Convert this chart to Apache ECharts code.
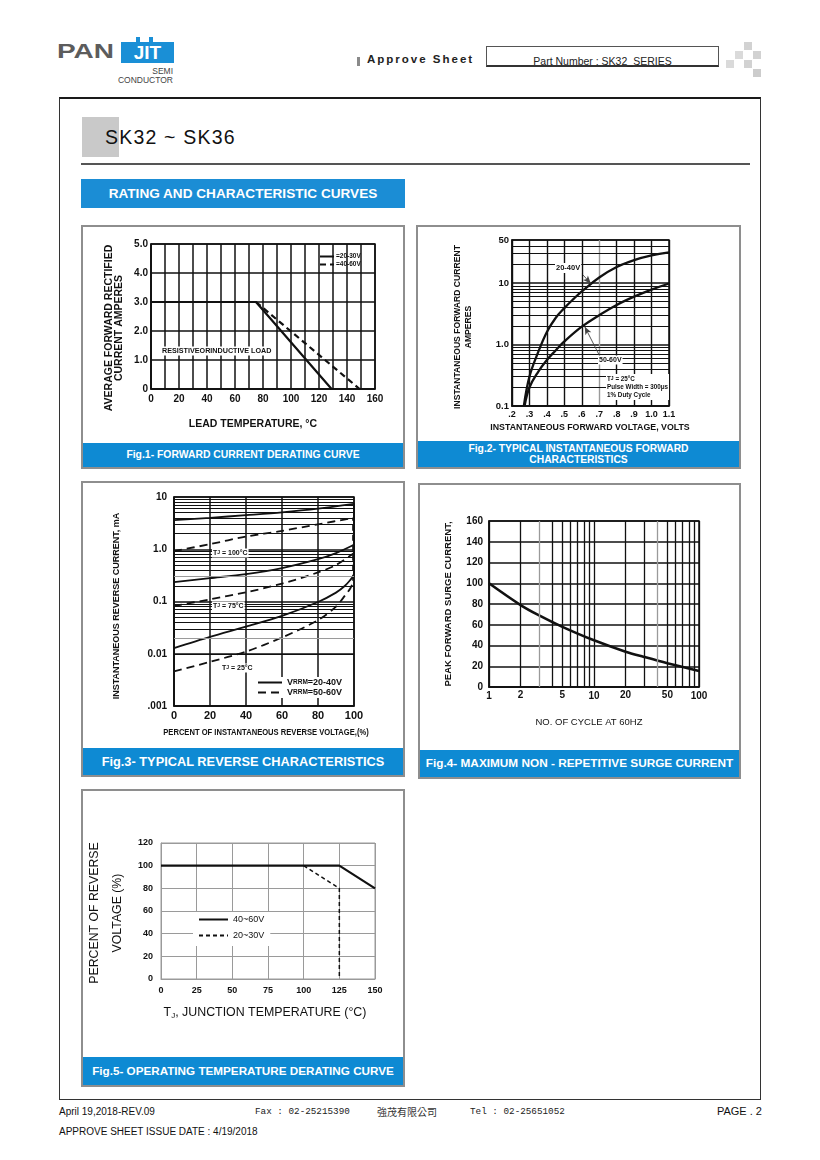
<!DOCTYPE html>
<html>
<head>
<meta charset="utf-8">
<script src="https://cdn.jsdelivr.net/npm/echarts@6/dist/echarts.min.js"></script>
<style>
  html, body { margin: 0; padding: 0; background: #fff; }
  body { font-family: "Liberation Sans", Arial, sans-serif; color: #111; }
  #page { position: relative; width: 820px; height: 1160px; overflow: hidden; background: #fff; }
  .abs { position: absolute; white-space: nowrap; }
  .panel { position: absolute; border: 2px solid #8e8e8e; box-sizing: border-box; }
  .cap { position: absolute; left: 0; right: 0; bottom: 0; background: #0e8ad3; color: #fff;
         font-weight: bold; text-align: center; white-space: nowrap; }
  .sq { position: absolute; width: 8px; height: 8px; background: #d2d2d2; }
  #chart { position: absolute; left: 0; top: 0; width: 820px; height: 1160px; z-index: 2; }
</style>
</head>
<body>
<div id="page">
  <!-- header / logo -->
  <div class="abs" style="left:57px;top:40px;font:bold 20px 'Liberation Sans';line-height:22px;color:#5c5c5c;transform:scaleX(1.4);transform-origin:left top;">PAN</div>
  <div class="abs" style="left:121px;top:42px;width:53px;height:21px;background:#1a8fd6;"></div>
  <div class="abs" style="left:136px;top:37px;width:4px;height:5px;background:#1a8fd6;"></div>
  <div class="abs" style="left:149px;top:37px;width:4px;height:5px;background:#1a8fd6;"></div>
  <div class="abs" style="left:121px;top:42px;width:53px;height:21px;font:bold 19px 'Liberation Sans';line-height:21px;color:#fff;text-align:center;">JIT</div>
  <div class="abs" style="right:647px;top:67px;font:8.5px 'Liberation Sans';line-height:9px;color:#444;text-align:right;">SEMI</div>
  <div class="abs" style="right:647px;top:76px;font:8.5px 'Liberation Sans';line-height:9px;color:#444;text-align:right;">CONDUCTOR</div>

  <div class="abs" style="left:357px;top:57px;width:3px;height:9px;background:#8a8a8a;"></div>
  <div class="abs" style="left:367px;top:53px;font:bold 11.5px 'Liberation Sans';letter-spacing:2px;line-height:13px;color:#222;">Approve Sheet</div>
  <div class="abs" style="left:486px;top:46px;width:233px;height:21px;box-sizing:border-box;border:1px solid #555;border-bottom:2px solid #333;"></div>
  <div class="abs" style="left:486px;top:56px;width:233px;font:10.5px 'Liberation Sans';line-height:11px;color:#222;text-align:center;">Part Number : SK32_SERIES</div>
  <div class="sq" style="left:744px;top:42px;"></div>
  <div class="sq" style="left:735px;top:51px;background:#dadada;"></div>
  <div class="sq" style="left:753px;top:51px;"></div>
  <div class="sq" style="left:726px;top:60px;background:#dadada;"></div>
  <div class="sq" style="left:744px;top:60px;"></div>
  <div class="sq" style="left:753px;top:69px;background:#cccccc;"></div>

  <!-- main frame -->
  <div class="abs" style="left:59px;top:97px;width:702px;height:1003px;box-sizing:border-box;border:1px solid #333;border-top:2px solid #1a1a1a;"></div>
  <div class="abs" style="left:82px;top:117px;width:37px;height:40px;background:#c9c9c9;"></div>
  <div class="abs" style="left:105px;top:126px;font:19.5px 'Liberation Sans';letter-spacing:1.2px;line-height:22px;color:#111;">SK32 ~ SK36</div>
  <div class="abs" style="left:81px;top:163px;width:669px;height:2px;background:#555;"></div>
  <div class="abs" style="left:81px;top:179px;width:324px;height:29px;background:#1b8dd5;color:#fff;font:bold 13.6px 'Liberation Sans';line-height:29px;text-align:center;">RATING AND CHARACTERISTIC CURVES</div>

  <!-- panels -->
  <div class="panel" style="left:81px;top:225px;width:324px;height:244px;">
    <div class="cap" style="height:24px;font-size:10.4px;line-height:24px;">Fig.1- FORWARD CURRENT DERATING CURVE</div>
  </div>
  <div class="panel" style="left:416px;top:225px;width:325px;height:244px;">
    <div class="cap" style="height:26px;font-size:10.3px;line-height:11px;padding-top:2px;box-sizing:border-box;">Fig.2- TYPICAL INSTANTANEOUS FORWARD<br>CHARACTERISTICS</div>
  </div>
  <div class="panel" style="left:81px;top:481px;width:324px;height:296px;">
    <div class="cap" style="height:27px;font-size:12.8px;line-height:27px;">Fig.3- TYPICAL REVERSE CHARACTERISTICS</div>
  </div>
  <div class="panel" style="left:418px;top:483px;width:323px;height:296px;">
    <div class="cap" style="height:27px;font-size:11.8px;line-height:27px;">Fig.4- MAXIMUM NON - REPETITIVE SURGE CURRENT</div>
  </div>
  <div class="panel" style="left:81px;top:789px;width:324px;height:298px;">
    <div class="cap" style="height:28px;font-size:11.7px;line-height:28px;">Fig.5- OPERATING TEMPERATURE DERATING CURVE</div>
  </div>

  <!-- footer -->
  <div class="abs" style="left:59px;top:1106px;font:10px 'Liberation Sans';line-height:12px;">April 19,2018-REV.09</div>
  <div class="abs" style="left:255px;top:1106px;font:9.3px 'Liberation Mono';line-height:12px;color:#222;">Fax : 02-25215390</div>
  <div class="abs" style="left:377px;top:1105px;font:10px 'Noto Sans CJK TC';line-height:13px;color:#333;">強茂有限公司</div>
  <div class="abs" style="left:470px;top:1106px;font:9.3px 'Liberation Mono';line-height:12px;color:#222;">Tel : 02-25651052</div>
  <div class="abs" style="right:58px;top:1105px;font:11px 'Liberation Sans';line-height:13px;">PAGE . 2</div>
  <div class="abs" style="left:59px;top:1126px;font:10px 'Liberation Sans';line-height:12px;">APPROVE SHEET ISSUE DATE : 4/19/2018</div>

  <div id="chart"></div>
</div>

<script>
// ================= DATA =================
// Fig.1 forward current derating (lead temperature degC -> average forward current A)
const fig1Temp2030 = [0, 75, 129];
const fig1Amp2030  = [3.0, 3.0, 0];
const fig1Temp4060 = [75, 149];
const fig1Amp4060  = [3.0, 0];

// Fig.2 typical instantaneous forward characteristics (V -> A)
const fig2Volt2040 = [0.268, 0.30, 0.35, 0.40, 0.45, 0.50, 0.55, 0.60, 0.70, 0.80, 0.90, 1.00, 1.10];
const fig2Amp2040  = [0.1, 0.30, 0.75, 1.6, 2.7, 3.9, 5.4, 7.3, 12.3, 18.2, 23.5, 28, 31.5];
const fig2Volt5060 = [0.272, 0.30, 0.35, 0.40, 0.45, 0.50, 0.60, 0.70, 0.80, 0.90, 1.00, 1.10];
const fig2Amp5060  = [0.1, 0.2, 0.36, 0.56, 0.8, 1.12, 1.95, 3.0, 4.4, 6.0, 7.8, 9.8];

// Fig.3 typical reverse characteristics (% of VRRM -> mA)
const fig3Pct100 = [0, 20, 40, 60, 80, 100];
const fig3Solid100 = [3.6, 4.0, 4.5, 5.1, 6.0, 7.4];
const fig3Dash100  = [0.92, 1.25, 1.75, 2.25, 3.0, 4.0];
const fig3Pct75 = [0, 20, 40, 60, 80, 90, 100];
const fig3Solid75 = [0.235, 0.28, 0.335, 0.435, 0.645, 0.845, 1.22];
const fig3Dash75  = [0.082, 0.11, 0.15, 0.22, 0.36, 0.5, 0.85];
const fig3Pct25 = [0, 20, 40, 60, 80, 90, 95, 98, 100];
const fig3Solid25 = [0.0128, 0.021, 0.033, 0.053, 0.098, 0.148, 0.2, 0.26, 0.32];
const fig3Dash25  = [0.0046, 0.007, 0.011, 0.0205, 0.044, 0.08, 0.13, 0.18, 0.25];
const fig3EdgeSolidPct = [100, 100];
const fig3EdgeSolid    = [0.32, 7.6];
const fig3EdgeDashPct  = [99.4, 99.4];
const fig3EdgeDash     = [0.25, 4.0];

// Fig.4 maximum non-repetitive surge current (cycles -> A)
const fig4Cycles = [1, 2, 3, 5, 10, 20, 30, 50, 100];
const fig4Surge  = [100, 79, 69, 58, 45, 34, 29, 23, 15.5];

// Fig.5 operating temperature derating (TJ degC -> % of reverse voltage)
const fig5Temp4060 = [0, 125, 150];
const fig5Pct4060  = [100, 100, 80];
const fig5Temp2030 = [100, 125, 125];
const fig5Pct2030  = [100, 80, 0];

// tick labels / grid helpers
const fig2YTickLabels = {'0.1': '0.1', '1': '1.0', '10': '10', '50': '50'};
const fig3YTickLabels = {'0.001': '.001', '0.01': '0.01', '0.1': '0.1', '1': '1.0', '10': '10'};
const fig2MinorY = [0.2, 0.3, 0.4, 0.5, 0.6, 0.7, 0.8, 0.9, 2, 3, 4, 5, 6, 7, 8, 9, 20, 30, 40];
const fig3Decades = [0.001, 0.01, 0.1, 1];
const minorSteps = [2, 3, 4, 5, 6, 7, 8, 9];
const fig3GrayY = [0.3, 0.02];
const fig4MinorX = [2, 3, 4, 5, 6, 7, 8, 9, 20, 30, 40, 50, 60, 70, 80, 90];
const fig4GrayX = [3, 40];
const fig4ExtraTickLabels = [2, 5, 20, 50];

// ================= CHART =================
const FONT = 'Liberation Sans';
const INK = '#111';
const GRAY = '#9a9a9a';
function lbl(size, extra) {
  return Object.assign({fontFamily: FONT, fontWeight: 'bold', fontSize: size, color: INK}, extra || {});
}
function xy(xs, ys) { return xs.map((x, i) => [x, ys[i]]); }
function axis(grid, o) {
  return Object.assign({
    gridIndex: grid,
    axisTick: {show: false},
    axisLine: {show: true, lineStyle: {color: INK, width: 1.5}},
    splitLine: {show: true, lineStyle: {color: INK, width: 1.5}}
  }, o);
}
function keyOf(v) { return String(+v.toPrecision(3)); }

const fig3MinorY = [];
fig3Decades.forEach(d => minorSteps.forEach(k => fig3MinorY.push(+(k * d).toPrecision(3))));

const gridBase = {show: true, borderColor: INK, borderWidth: 1.5, containLabel: false};
const grids = [
  Object.assign({}, gridBase, {left: 151, top: 244, width: 224, height: 145}),
  Object.assign({}, gridBase, {left: 512, top: 240, width: 157, height: 166}),
  Object.assign({}, gridBase, {left: 174, top: 497, width: 180, height: 209}),
  Object.assign({}, gridBase, {left: 489, top: 521, width: 210, height: 166}),
  Object.assign({}, gridBase, {left: 161, top: 843, width: 214, height: 136, borderColor: GRAY, borderWidth: 1})
];

const fig2XColors = [INK, INK, INK, INK, INK, GRAY, INK, INK, INK, INK];

const xAxes = [
  axis(0, {type: 'value', min: 0, max: 160, interval: 10,
    axisLabel: lbl(10, {margin: 5, formatter: v => (v % 20 === 0 ? String(v) : '')})}),
  axis(1, {type: 'value', min: 0.2, max: 1.1, interval: 0.1,
    splitLine: {show: true, lineStyle: {color: fig2XColors, width: 1.4}},
    axisLabel: lbl(9, {margin: 4, formatter: v => { const r = Math.round(v * 10); return r < 10 ? '.' + r : (r / 10).toFixed(1); }})}),
  axis(2, {type: 'value', min: 0, max: 100, interval: 20,
    axisLabel: lbl(11, {margin: 4})}),
  axis(3, {type: 'log', logBase: 10, min: 1, max: 100,
    splitLine: {show: true, lineStyle: {color: INK, width: 1.3}},
    axisLabel: lbl(10, {margin: 4, formatter: v => String(Math.round(v))})}),
  axis(4, {type: 'value', min: 0, max: 150, interval: 25,
    axisLine: {show: true, lineStyle: {color: GRAY, width: 1}},
    splitLine: {show: true, lineStyle: {color: GRAY, width: 1}},
    axisLabel: lbl(9, {margin: 7})})
];

const yAxes = [
  axis(0, {type: 'value', min: 0, max: 5, interval: 1,
    axisLabel: lbl(10, {margin: 3, formatter: v => (v === 0 ? '0' : v.toFixed(1))})}),
  axis(1, {type: 'log', logBase: 10, min: 0.1, max: 50,
    splitLine: {show: true, lineStyle: {color: INK, width: 1.5}},
    axisLabel: lbl(9.5, {margin: 3, showMinLabel: true, showMaxLabel: true,
      formatter: v => fig2YTickLabels[keyOf(Math.round(v * 1000) / 1000)] || ''})}),
  axis(2, {type: 'log', logBase: 10, min: 0.001, max: 10,
    splitLine: {show: true, lineStyle: {color: INK, width: 1.5}},
    axisLabel: lbl(10, {margin: 7, showMinLabel: true, showMaxLabel: true,
      formatter: v => fig3YTickLabels[keyOf(v)] || ''})}),
  axis(3, {type: 'value', min: 0, max: 160, interval: 20,
    axisLabel: lbl(10, {margin: 6})}),
  axis(4, {type: 'value', min: 0, max: 120, interval: 20,
    axisLine: {show: true, lineStyle: {color: GRAY, width: 1}},
    splitLine: {show: true, lineStyle: {color: GRAY, width: 1}},
    axisLabel: lbl(9, {margin: 8})})
];

function lineSeries(idx, name, data, o) {
  return Object.assign({
    type: 'line', name, xAxisIndex: idx, yAxisIndex: idx, data,
    symbol: 'none', showSymbol: false, silent: true, animation: false,
    itemStyle: {color: INK},
    lineStyle: {color: INK, width: 2.2, type: 'solid'}, z: 3
  }, o || {});
}
const markBase = {silent: true, symbol: ['none', 'none'], animation: false, label: {show: false},
  lineStyle: {type: 'solid', color: INK, width: 1}};

const series = [
  // Fig.1
  lineSeries(0, '=20-30V', xy(fig1Temp2030, fig1Amp2030), {lineStyle: {color: INK, width: 2.2}}),
  lineSeries(0, '=40-60V', xy(fig1Temp4060, fig1Amp4060), {lineStyle: {color: INK, width: 2.2, type: [6, 4]}}),
  // Fig.2
  lineSeries(1, '20-40V', xy(fig2Volt2040, fig2Amp2040), {smooth: 0.4, lineStyle: {color: INK, width: 2.3},
    markLine: Object.assign({}, markBase, {data:
      fig2MinorY.map(v => ({yAxis: v, lineStyle: {color: INK, width: 1.2}})).concat([
        [{coord: [0.607, 13.5], symbol: 'none'}, {coord: [0.652, 9.8], symbol: 'arrow', symbolSize: [5, 8], lineStyle: {color: '#444', width: 0.9}}],
        [{coord: [0.705, 0.63], symbol: 'none'}, {coord: [0.617, 1.95], symbol: 'arrow', symbolSize: [5, 8], lineStyle: {color: '#444', width: 0.9}}]
      ])})}),
  lineSeries(1, '50-60V', xy(fig2Volt5060, fig2Amp5060), {smooth: 0.4, lineStyle: {color: INK, width: 2.3}}),
  // Fig.3
  lineSeries(2, 'VRRM=20-40V', xy(fig3Pct100, fig3Solid100), {smooth: 0.3, lineStyle: {color: INK, width: 1.8},
    markLine: Object.assign({}, markBase, {data:
      fig3MinorY.map(v => ({yAxis: v, lineStyle: {color: fig3GrayY.indexOf(v) >= 0 ? GRAY : INK, width: 1}}))})}),
  lineSeries(2, 'VRRM=50-60V', xy(fig3Pct100, fig3Dash100), {smooth: 0.3, lineStyle: {color: INK, width: 1.8, type: [8, 5]}}),
  lineSeries(2, 'VRRM=20-40V', xy(fig3Pct75, fig3Solid75), {smooth: 0.3, lineStyle: {color: INK, width: 1.8}}),
  lineSeries(2, 'VRRM=50-60V', xy(fig3Pct75, fig3Dash75), {smooth: 0.3, lineStyle: {color: INK, width: 1.8, type: [8, 5]}}),
  lineSeries(2, 'VRRM=20-40V', xy(fig3Pct25, fig3Solid25), {smooth: 0.3, lineStyle: {color: INK, width: 1.8}}),
  lineSeries(2, 'VRRM=50-60V', xy(fig3Pct25, fig3Dash25), {smooth: 0.3, lineStyle: {color: INK, width: 1.8, type: [8, 5]}}),
  lineSeries(2, 'VRRM=20-40V', xy(fig3EdgeSolidPct, fig3EdgeSolid), {lineStyle: {color: INK, width: 1.8}}),
  lineSeries(2, 'VRRM=50-60V', xy(fig3EdgeDashPct, fig3EdgeDash), {lineStyle: {color: INK, width: 1.5, type: [6, 4]}}),
  // Fig.4
  lineSeries(3, 'surge', xy(fig4Cycles, fig4Surge), {smooth: 0.35, lineStyle: {color: INK, width: 2.6},
    markLine: Object.assign({}, markBase, {data:
      fig4MinorX.map(v => ({xAxis: v,
        lineStyle: {color: fig4GrayX.indexOf(v) >= 0 ? GRAY : INK, width: 1.3},
        label: fig4ExtraTickLabels.indexOf(v) >= 0
          ? lbl(10, {show: true, position: 'start', distance: 3, formatter: String(v)})
          : {show: false}}))})}),
  // Fig.5
  lineSeries(4, '40~60V', xy(fig5Temp4060, fig5Pct4060), {lineStyle: {color: INK, width: 2.2}}),
  lineSeries(4, '20~30V', xy(fig5Temp2030, fig5Pct2030), {lineStyle: {color: INK, width: 1.5, type: [4, 3]}})
];

const hiddenSymbol = {opacity: 0, color: 'rgba(0,0,0,0)', borderWidth: 0};
const legends = [
  {data: ['=20-30V', '=40-60V'], left: 319, top: 253, orient: 'vertical', itemWidth: 14, itemHeight: 6,
   itemGap: 1, padding: 0, selectedMode: false, z: 20, itemStyle: hiddenSymbol,
   textStyle: lbl(6.5, {padding: [0, 0, 0, -3]})},
  {data: ['VRRM=20-40V', 'VRRM=50-60V'], left: 252, top: 677, orient: 'vertical', itemWidth: 24, itemHeight: 8,
   itemGap: 1, padding: [1, 6, 1, 5], backgroundColor: '#fff', selectedMode: false, z: 20, itemStyle: hiddenSymbol,
   formatter: n => '{v|V}{s|RRM}{v|' + n.slice(4) + '}',
   textStyle: lbl(9, {rich: {v: lbl(9), s: lbl(6.5)}})},
  {data: ['40~60V', '20~30V'], left: 193, top: 912, orient: 'vertical', itemWidth: 29, itemHeight: 10,
   itemGap: 7, padding: [3, 6, 6, 5], backgroundColor: '#fff', selectedMode: false, z: 20, itemStyle: hiddenSymbol,
   textStyle: {fontFamily: FONT, fontSize: 9, color: INK}}
];

function gtext(x, y, text, size, o, extra) {
  return Object.assign({type: 'text', x, y, z: 100, silent: true,
    style: Object.assign({text, fontFamily: FONT, fontSize: size, fontWeight: 'bold', fill: INK,
      align: 'center', verticalAlign: 'middle'}, o || {})}, extra || {});
}
const ROT = {rotation: Math.PI / 2};
const SUB7 = {rich: {s: {fontFamily: FONT, fontWeight: 'bold', fontSize: 5, fill: INK}}};

const graphics = [
  // axis titles
  gtext(114, 328, 'AVERAGE FORWARD RECTIFIED\nCURRENT AMPERES', 10.5, {lineHeight: 10.5}, ROT),
  gtext(253, 424, 'LEAD TEMPERATURE, °C', 10.5),
  gtext(463.5, 327, 'INSTANTANEOUS FORWARD CURRENT\nAMPERES', 8.6, {lineHeight: 11}, ROT),
  gtext(590, 428, 'INSTANTANEOUS FORWARD VOLTAGE, VOLTS', 8.8),
  gtext(117, 606, 'INSTANTANEOUS REVERSE CURRENT, mA', 9, {}, ROT),
  gtext(266, 732, 'PERCENT OF INSTANTANEOUS REVERSE VOLTAGE,(%)', 9.5, {}, {scaleX: 0.8}),
  gtext(448, 604, 'PEAK FORWARD SURGE CURRENT,', 9.5, {}, ROT),
  gtext(589, 722, 'NO. OF CYCLE AT 60HZ', 9.5, {fontWeight: 'normal'}),
  gtext(106.5, 913, 'PERCENT OF REVERSE\nVOLTAGE (%)', 12.3, {fontWeight: 'normal', lineHeight: 23}, ROT),
  gtext(265, 1013, 'T{s|J}, JUNCTION TEMPERATURE (°C)', 12.4,
    {fontWeight: 'normal', rich: {s: {fontFamily: FONT, fontSize: 8, fill: INK, padding: [6, 0, 0, 0]}}}),
  // annotations
  gtext(162, 351, 'RESISTIVEORINDUCTIVE LOAD', 7.2, {align: 'left', backgroundColor: '#fff', padding: [1, 0]}),
  gtext(555, 268, '20-40V', 7.5, {align: 'left', backgroundColor: '#fff', padding: [1, 1]}),
  gtext(598, 360, '50-60V', 7, {align: 'left', backgroundColor: '#fff', padding: [1, 1]}),
  gtext(606, 374, 'T{s|J} = 25°C\nPulse Width = 300μs\n1% Duty Cycle', 6.3,
    Object.assign({align: 'left', verticalAlign: 'top', lineHeight: 8, backgroundColor: '#fff', padding: [1, 1]}, SUB7)),
  gtext(212, 553, 'T{s|J} = 100°C', 7, Object.assign({align: 'left', backgroundColor: '#fff', padding: [1, 1]}, SUB7)),
  gtext(212, 606, 'T{s|J} = 75°C', 7, Object.assign({align: 'left', backgroundColor: '#fff', padding: [1, 1]}, SUB7)),
  gtext(221, 668, 'T{s|J} = 25°C', 7, Object.assign({align: 'left', backgroundColor: '#fff', padding: [1, 1]}, SUB7))
];

const chart = echarts.init(document.getElementById('chart'), null, {renderer: 'canvas', width: 820, height: 1160});
chart.setOption({
  backgroundColor: 'transparent',
  animation: false,
  textStyle: {fontFamily: FONT},
  grid: grids,
  xAxis: xAxes,
  yAxis: yAxes,
  legend: legends,
  series: series,
  graphic: graphics
});
</script>
</body>
</html>
